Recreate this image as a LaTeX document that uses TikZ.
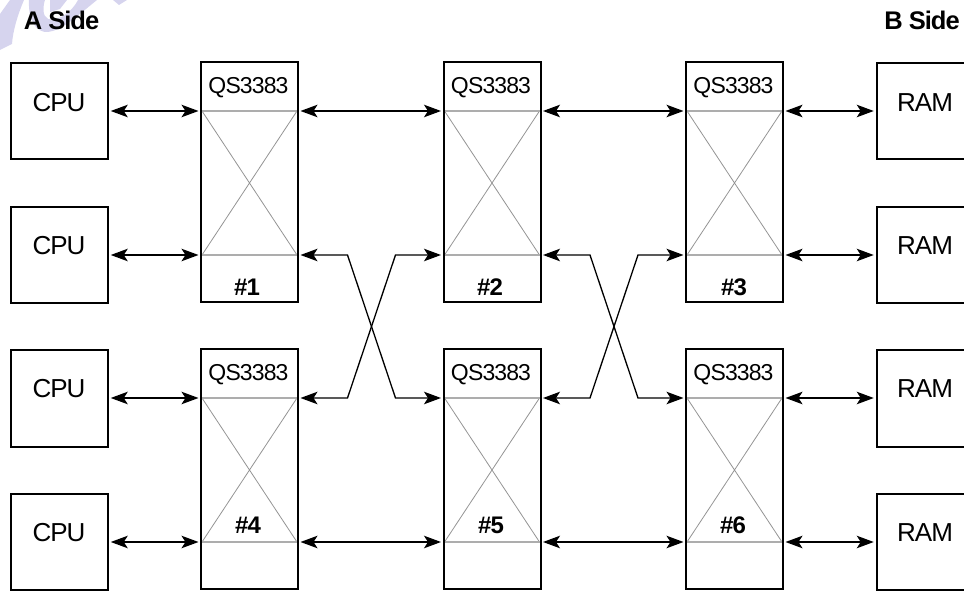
\documentclass[tikz,border=0pt]{standalone}
\usepackage{fontspec}
\setmainfont[LetterSpace=-3.8]{Liberation Sans}
\usetikzlibrary{arrows.meta}
\definecolor{wm}{HTML}{D6D4EE}
\tikzset{x=1pt,y=-1pt,
  unitbox/.style={draw=black,line width=2pt,minimum width=96.5pt,minimum height=96.5pt,inner sep=0pt},
  chipbox/.style={draw=black,line width=2pt,minimum width=97pt,minimum height=239.5pt,inner sep=0pt},
  xline/.style={draw=black!42,line width=0.8pt},
  hline/.style={draw=black!32,line width=1.1pt},
  link/.style={draw=black,line width=1.3pt,{Stealth[length=17pt,width=12.5pt,inset=4pt]}-{Stealth[length=17pt,width=12.5pt,inset=4pt]}},
  unittext/.style={font=\fontsize{26}{28}\selectfont,inner sep=0pt},
  qs/.style={font=\fontsize{23}{25}\selectfont,inner sep=0pt},
  num/.style={font=\fontsize{24}{26}\selectfont\bfseries,inner sep=0pt},
  side/.style={font=\fontsize{25.5}{27}\selectfont\bfseries,inner sep=0pt}}
\begin{document}
\begin{tikzpicture}
\useasboundingbox (0,0) rectangle (964,591);
\clip (0,0) rectangle (964,591);
\fill[wm] (0,14) -- (10,0) -- (24,0) .. controls (18,14) and (13,30) .. (12,44) -- (0,50) -- cycle;
\fill[wm] (29,0) .. controls (28,20) and (36,33) .. (48,32) .. controls (62,30) and (72,20) .. (86,9) -- (97,0) -- (78,0) .. controls (72,12) and (58,22) .. (48,19) .. controls (42,16) and (43,6) .. (45,0) -- cycle;
\fill[wm] (50,0) -- (67,0) -- (60,9) -- (50,12) -- cycle;
\fill[wm] (113,0) -- (127,0) -- (119,5) -- cycle;
\node[side] (aside) at (61.5,20) {A Side};
\node[side] (bside) at (922,20) {B Side};
\foreach \n/\y in {c1/111,c2/255,c3/398.5,c4/542}
  \node[unitbox] (\n) at (59.5,\y) {};
\foreach \n/\y in {r1/111,r2/255,r3/398.5,r4/542}
  \node[unitbox] (\n) at (925.5,\y) {};
\foreach \n/\y in {c1/102.5,c2/245.5,c3/389,c4/533}
  \node[unittext] (\n t) at (59,\y) {CPU};
\foreach \n/\y in {r1/102.5,r2/245.5,r3/389,r4/533}
  \node[unittext] (\n t) at (925,\y) {RAM};
\foreach \n/\x/\y in {q1/249.5/182,q2/492/182,q3/734.5/182,q4/249.5/469,q5/492/469,q6/734.5/469}{
  \coordinate (\n TL) at (\x-47.5,\y-71);
  \coordinate (\n TR) at (\x+47.5,\y-71);
  \coordinate (\n BL) at (\x-47.5,\y+73);
  \coordinate (\n BR) at (\x+47.5,\y+73);
  \draw[xline] (\n TL) -- (\n BR) (\n TR) -- (\n BL);
  \draw[hline] (\n TL) -- (\n TR) (\n BL) -- (\n BR);
  \node[chipbox] (\n) at (\x,\y) {};
  \node[qs] (\n q) at (\x-1,\y-94) {QS3383};
}
\node[num] (n1) at (247,287) {\#1};
\node[num] (n2) at (490,287) {\#2};
\node[num] (n3) at (734,287) {\#3};
\node[num] (n4) at (248,525) {\#4};
\node[num] (n5) at (491,525) {\#5};
\node[num] (n6) at (733,525) {\#6};
% straight links
\foreach \a/\b in {c1/q1TL,c2/q1BL,c3/q4TL,c4/q4BL}
  \draw[link] (\a.east|-\b) ++(2,0) -- ([xshift=-3.5pt]\b);
\foreach \a/\b in {r1/q3TR,r2/q3BR,r3/q6TR,r4/q6BR}
  \draw[link] ([xshift=3.5pt]\b) -- ([xshift=-2.5pt]\a.west|-\b);
\foreach \a/\b in {q1TR/q2TL,q2TR/q3TL,q4BR/q5BL,q5BR/q6BL}
  \draw[link] ([xshift=3.5pt]\a) -- ([xshift=-3.5pt]\b);
% crossing links
\foreach \a/\b in {q1BR/q5TL,q4TR/q2BL,q2BR/q6TL,q5TR/q3BL}
  \draw[link] ([xshift=3.5pt]\a) -- ++(47,0) -- ([xshift=-49pt]\b) -- ([xshift=-3.5pt]\b);
\end{tikzpicture}
\end{document}
